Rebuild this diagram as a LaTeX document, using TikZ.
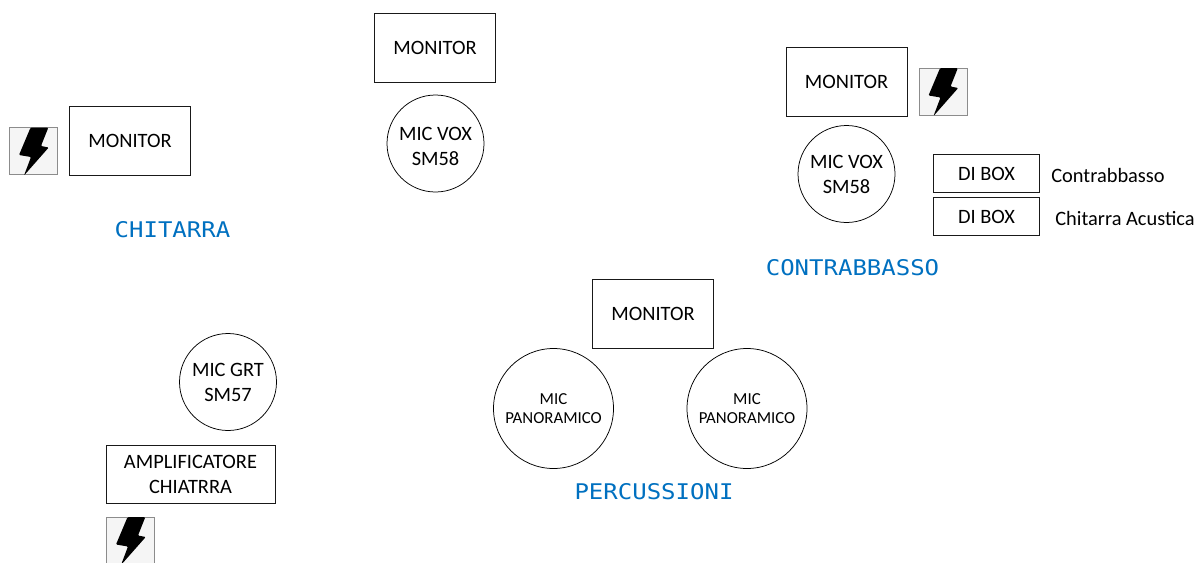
\documentclass[tikz,border=0pt]{standalone}
\usepackage{fontspec}
\usepackage{graphicx}
\setmainfont{Carlito}
\newfontfamily\techfont{DejaVu Sans Mono}
\definecolor{techblue}{HTML}{0070C0}
\definecolor{boltbg}{HTML}{F5F5F5}
\newcommand{\techtext}[1]{\scalebox{1}[0.9]{#1}}
\tikzset{
 x=1pt,y=-1pt,
 boxn/.style={draw=black!90,line width=1pt,rectangle,inner sep=0pt,font=\fontsize{20.4}{25}\selectfont,align=center},
 mic/.style={draw=black,line width=0.75pt,circle,inner sep=0pt,minimum size=#1,align=center,font=\fontsize{20.4}{25}\selectfont},
 micsmall/.style={draw=black,line width=0.75pt,circle,inner sep=0pt,minimum size=#1,align=center,font=\fontsize{16.8}{19.5}\selectfont},
 plain/.style={inner sep=0pt,align=center,font=\fontsize{20.4}{25}\selectfont},
 tech/.style={inner sep=0pt,text=techblue,font=\techfont\fontsize{24}{26}\selectfont},
}
\newcommand{\boltat}[2]{%
 \begin{scope}[shift={(#1,#2)}]
 \fill[boltbg,draw=black!45,line width=0.6pt] (0,0) rectangle (48,47);
 \fill[black,rounded corners=1pt] (21,0.2) -- (38.8,0.2) -- (31.5,18.5) -- (39.2,20) -- (14.5,48) -- (21.5,29.5) -- (9.5,27.5) -- cycle;
 \end{scope}}
\begin{document}
\begin{tikzpicture}
\useasboundingbox (0,0) rectangle (1198,562);
\clip (0,0) rectangle (1198,562);
% monitors
\node[boxn,minimum width=121pt,minimum height=69pt] (m1) at (130,141) {MONITOR};
\node[boxn,minimum width=121pt,minimum height=69pt] (m2) at (435,47.5) {MONITOR};
\node[boxn,minimum width=121pt,minimum height=69pt] (m3) at (846.5,82) {MONITOR};
\node[boxn,minimum width=121pt,minimum height=69pt] (m4) at (653,313.5) {MONITOR};
% mics
\node[mic=97pt] (v1) at (435.5,143.5) {};
\node[plain] (v1t) at (435.5,146.5) {MIC VOX\\SM58};
\node[mic=97pt] (v2) at (846.5,174) {MIC VOX\\SM58};
\node[mic=97pt] (g1) at (228,382) {MIC GRT\\SM57};
\node[micsmall=120pt] (p1) at (553.5,408.5) {MIC\\PANORAMICO};
\node[micsmall=120pt] (p2) at (747,408.5) {MIC\\PANORAMICO};
% DI
\node[boxn,minimum width=106pt,minimum height=38pt] (d1) at (986.5,173.5) {DI BOX};
\node[boxn,minimum width=106pt,minimum height=38pt] (d2) at (986.5,216.5) {DI BOX};
\node[plain] (l1) at (1108,175) {Contrabbasso};
\node[plain] (l2) at (1125,218.5) {Chitarra Acustica};
% amp
\node[boxn,minimum width=169pt,minimum height=58pt] (a) at (190.5,474) {AMPLIFICATORE\\CHIATRRA};
% section titles
\node[tech] (t1) at (172.5,230) {\techtext{CHITARRA}};
\node[tech] (t2) at (852.5,268) {\techtext{CONTRABBASSO}};
\node[tech] (t3) at (654,492) {\techtext{PERCUSSIONI}};
% bolts
\boltat{9.5}{127.5}
\boltat{919}{68}
\boltat{106.5}{517}
\end{tikzpicture}
\end{document}
